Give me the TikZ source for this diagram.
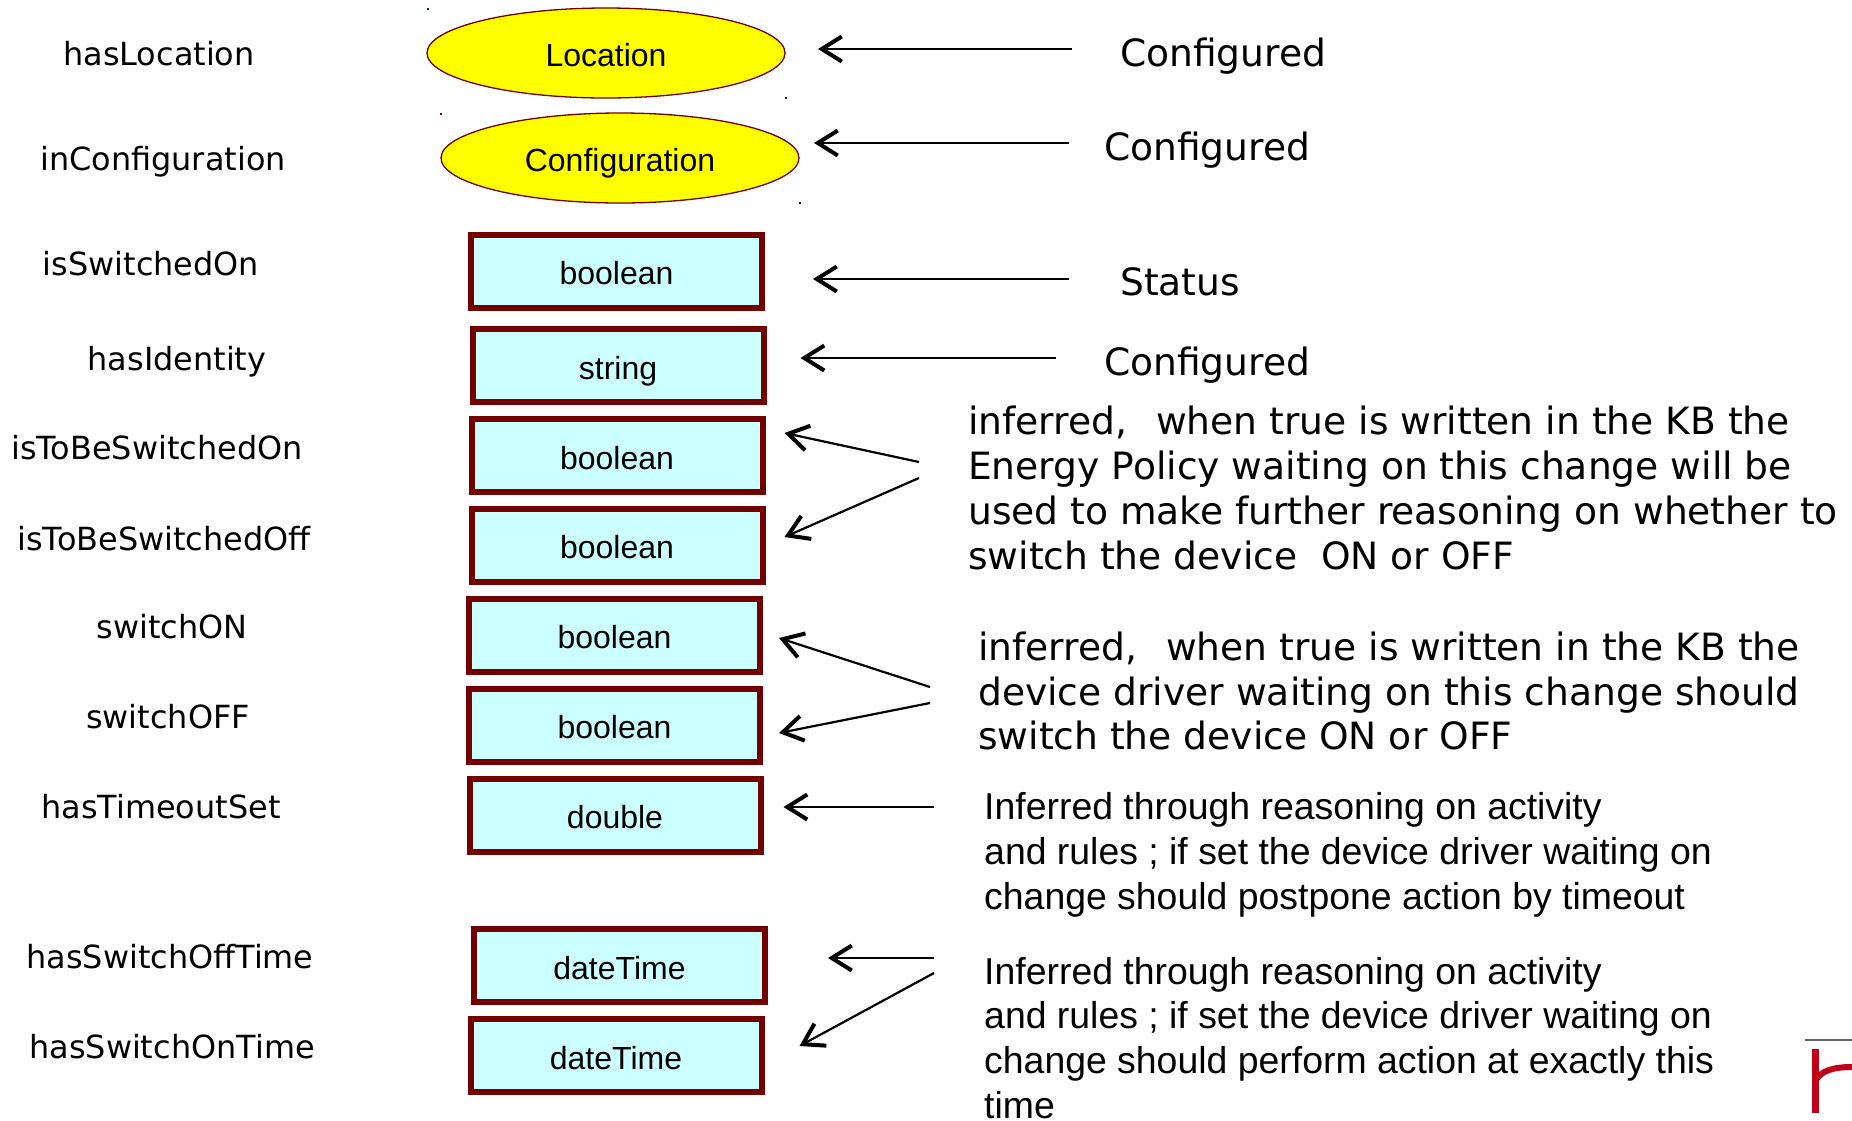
\documentclass[tikz,border=0pt]{standalone}
\usepackage{fontspec}
\usepackage{tikz}
\usetikzlibrary{arrows.meta,shapes.geometric}
\setmainfont{DejaVu Sans}
\newfontfamily\arialfont{Liberation Sans}
\definecolor{boxred}{HTML}{720000}
\definecolor{boxfill}{HTML}{CCFFFF}
\definecolor{clsfill}{HTML}{FFFF00}
\definecolor{logored}{HTML}{C00018}
\tikzset{
    prop/.style={inner sep=0pt, font=\fontsize{31.9}{38}\selectfont},
    kind/.style={inner sep=0pt, font=\fontsize{37.6}{44.8}\selectfont, anchor=west},
    para/.style={inner sep=0pt, align=left, anchor=west, font=\fontsize{37.6}{44.8}\selectfont},
    parab/.style={inner sep=0pt, align=left, anchor=west, font=\arialfont\fontsize{37.4}{44.8}\selectfont},
    cls/.style={draw=boxred, fill=clsfill, line width=1.3pt, ellipse, inner sep=0pt, outer sep=0pt,
        minimum width=358pt, minimum height=90pt, text height=30pt, text depth=3pt,
        font=\arialfont\fontsize{32}{38}\selectfont},
    val/.style={draw=boxred, fill=boxfill, line width=6pt, rectangle, inner sep=0pt, outer sep=0pt,
        minimum width=291pt, minimum height=73pt, text height=30pt, text depth=3pt,
        font=\arialfont\fontsize{32}{38}\selectfont},
    conn/.style={-{Straight Barb[length=20pt,width=25pt,line width=4pt]}, line width=2.2pt, black},
    speck/.style={fill=boxred}
}
\begin{document}
\begin{tikzpicture}[x=1pt,y=-1pt]
    \useasboundingbox (0,0) rectangle (1852,1120);
    % property names
    \node[prop] (pLocation) at (159,54) {hasLocation};
    \node[prop] (pConfig) at (163,161.5) {inConfiguration};
    \node[prop] (pOn) at (151,264) {isSwitchedOn};
    \node[prop] (pIdentity) at (177,361.5) {hasIdentity};
    \node[prop] (pToOn) at (157,448) {isToBeSwitchedOn};
    \node[prop] (pToOff) at (164,539) {isToBeSwitchedOff};
    \node[prop] (pSwOn) at (172,627) {switchON};
    \node[prop] (pSwOff) at (168,717) {switchOFF};
    \node[prop] (pTimeout) at (161,807) {hasTimeoutSet};
    \node[prop] (pOffTime) at (170,957) {hasSwitchOffTime};
    \node[prop] (pOnTime) at (172,1047) {hasSwitchOnTime};
    % value shapes
    \node[cls] (Location) at (606,53) {Location};
    \node[cls] (Configuration) at (620,158) {Configuration};
    \node[val] (bOn) at (616.5,271) {boolean};
    \node[val] (bIdentity) at (618,365.5) {string};
    \node[val] (bToOn) at (617,455.5) {boolean};
    \node[val] (bToOff) at (617,545) {boolean};
    \node[val] (bSwOn) at (614.5,635) {boolean};
    \node[val] (bSwOff) at (614.5,725) {boolean};
    \node[val] (bTimeout) at (615,815) {double};
    \node[val] (bOffTime) at (619.5,965.5) {dateTime};
    \node[val] (bOnTime) at (616,1055.5) {dateTime};
    % handle specks
    \fill[speck] (427,8) rectangle +(2,2);
    \fill[speck] (785,97) rectangle +(2,2);
    \fill[speck] (440,113) rectangle +(2,2);
    \fill[speck] (799,202) rectangle +(2,2);
    % notes
    \node[kind] (nLocation) at (1120,56.5) {Configured};
    \node[kind] (nConfig) at (1104,150.5) {Configured};
    \node[kind] (nStatus) at (1120,281.5) {Status};
    \node[kind] (nIdentity) at (1104,365.5) {Configured};
    \node[para] (nPolicy) at (968,488) {inferred,\ \ \kern5pt when true is written in the KB the\\Energy Policy waiting on this change will be\\used to make further reasoning on whether to\\switch the device\ \ ON or OFF};
    \node[para] (nDriver) at (978,691) {inferred,\ \ \kern5pt when true is written in the KB the\\device driver waiting on this change should\\switch the device ON or OFF};
    \node[parab] (nTimeout) at (984,855) {Inferred through reasoning on activity\\and rules ; if set the device driver waiting on\\change should postpone action by timeout};
    \node[parab] (nExact) at (984,1038) {Inferred through reasoning on activity\\and rules ; if set the device driver waiting on\\change should perform action at exactly this\\time};
    % free arrow ends
    \coordinate (tLocation) at (1072,49);
    \coordinate (tConfig) at (1069,143);
    \coordinate (tStatus) at (1069,279);
    \coordinate (tIdentity) at (1056,358);
    \coordinate (tToOn) at (919,462);
    \coordinate (tToOff) at (919,478);
    \coordinate (tSwOn) at (930,687);
    \coordinate (tSwOff) at (930,703);
    \coordinate (tTimeout) at (934,807);
    \coordinate (tOffTime) at (934,958);
    \coordinate (tOnTime) at (934,973);
    \draw[conn] (tLocation) -- ([xshift=33pt,yshift=4pt]Location.east);
    \draw[conn] (tConfig) -- ([xshift=15pt,yshift=15pt]Configuration.east);
    \draw[conn] (tStatus) -- ([xshift=51pt,yshift=-8pt]bOn.east);
    \draw[conn] (tIdentity) -- ([xshift=37pt,yshift=7.5pt]bIdentity.east);
    \draw[conn] (tToOn) -- ([xshift=22pt,yshift=22.5pt]bToOn.east);
    \draw[conn] (tToOff) -- ([xshift=22pt,yshift=8pt]bToOff.east);
    \draw[conn] (tSwOn) -- ([xshift=19pt,yshift=-3pt]bSwOn.east);
    \draw[conn] (tSwOff) -- ([xshift=19pt,yshift=-8pt]bSwOff.east);
    \draw[conn] (tTimeout) -- ([xshift=23pt,yshift=8pt]bTimeout.east);
    \draw[conn] (tOffTime) -- ([xshift=63pt,yshift=7.5pt]bOffTime.east);
    \draw[conn] (tOnTime) -- ([xshift=38pt,yshift=9.5pt]bOnTime.east);
    % logo corner
    \draw[gray!80!black, line width=2pt] (1805,1040) -- (1852,1040);
    \draw[logored, line width=7pt] (1815,1113) -- (1815,1049);
    \draw[logored, line width=6pt] (1815,1082) .. controls (1820,1070) and (1835,1067) .. (1852,1067);
\end{tikzpicture}
\end{document}
